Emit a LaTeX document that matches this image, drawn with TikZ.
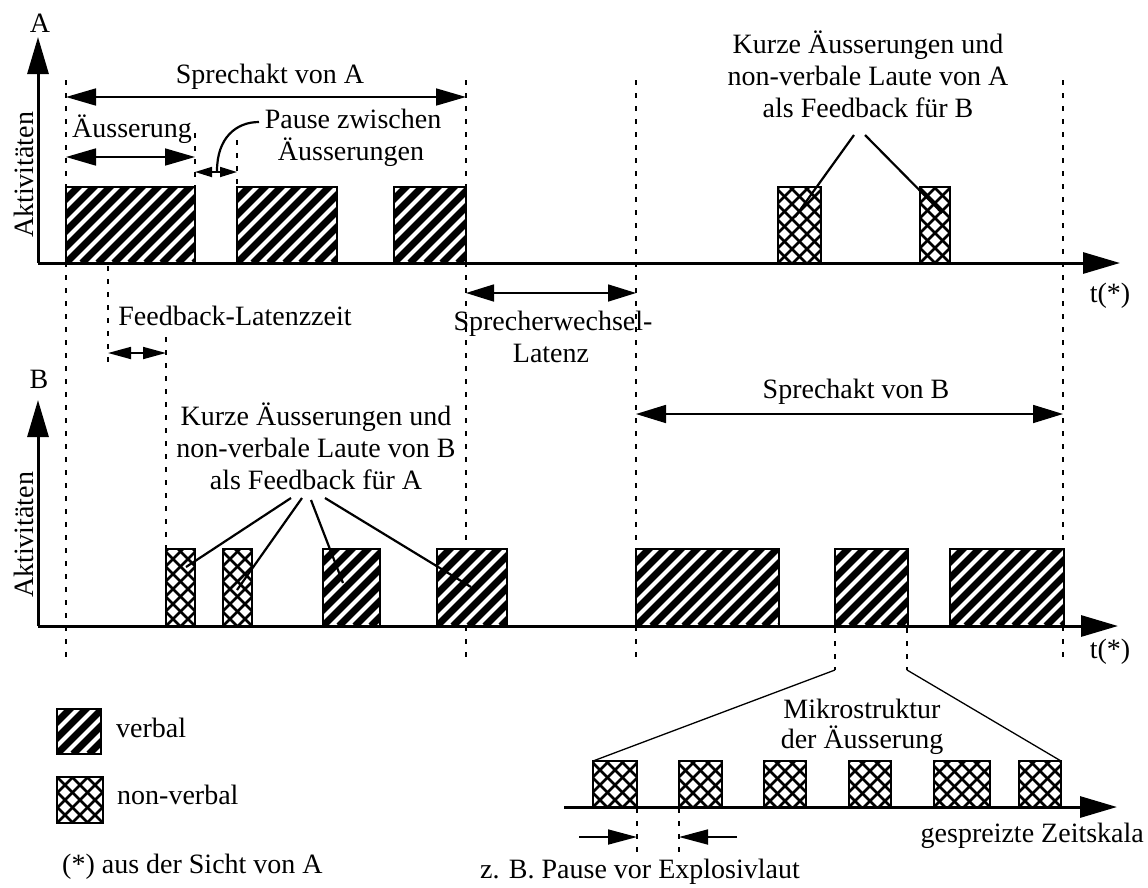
\documentclass[tikz,border=0pt]{standalone}
\usepackage{fontspec}
\setmainfont{Liberation Serif}
\usetikzlibrary{arrows.meta}
\newcommand\mkbox[6]{\node[#1, minimum width={(#5-#3)*1pt}, minimum height={(#6-#4)*1pt}] (#2) at (#3,#4) {};}
\begin{document}
\begin{tikzpicture}[x=1pt,y=-1pt,
  font=\fontsize{28pt}{32pt}\selectfont,
  lbl/.style={inner sep=0pt, anchor=base},
  lblw/.style={inner sep=0pt, anchor=base west},
  axisline/.style={line width=3pt, -{Triangle[length=37pt,width=21pt]}},
  dimarrow/.style 2 args={line width=1.7pt, {Triangle[length=#1,width=#2]}-{Triangle[length=#1,width=#2]}},
  onearrow/.style={line width=1.7pt, -{Triangle[length=29pt,width=15pt]}},
  dotline/.style={line width=2.5pt, dash pattern=on 4.5pt off 8.5pt},
  leader/.style={line width=2.2pt},
  thinleader/.style={line width=1.3pt},
  boxframe/.style={draw, line width=2.8pt, fill=white, inner sep=0pt, outer sep=0pt, anchor=north west},
  verbal/.style={boxframe, path picture={
    \foreach \i in {-7,...,10}
      \draw[line width=6.8pt] ([xshift=\i*16pt]path picture bounding box.south west) -- ++(160pt,160pt);
  }},
  nonverbal/.style={boxframe, path picture={
    \foreach \i in {-7,...,12}{
      \draw[line width=2.6pt] ([xshift=\i*15pt]path picture bounding box.south west) -- ++(160pt,160pt);
      \draw[line width=2.6pt] ([xshift=\i*15pt]path picture bounding box.south east) -- ++(-160pt,160pt);}
  }}
]
\useasboundingbox (0,0) rectangle (1148,887);

% ---------- dotted guide lines ----------
\draw[dotline] (66,80) -- (66,658);
\draw[dotline] (466,80) -- (466,660);
\draw[dotline] (636,80) -- (636,657);
\draw[dotline] (1063,80) -- (1063,657);
\draw[dotline] (108,266) -- (108,370);
\draw[dotline] (166,337) -- (166,549);
\draw[dotline] (195,133) -- (195,187);
\draw[dotline] (237,140) -- (237,187);
\draw[dotline] (835,628) -- (835,670);
\draw[dotline] (907,628) -- (907,670);
\draw[dotline] (637,808) -- (637,853);
\draw[dotline] (679,808) -- (679,853);

% ---------- section A ----------
\coordinate (oA) at (38,263);
\coordinate (yA) at (38,37);
\coordinate (xA) at (1120,263);
\mkbox{verbal}{a1}{66}{187}{195}{263}
\mkbox{verbal}{a2}{237}{187}{337}{263}
\mkbox{verbal}{a3}{394}{187}{466}{263}
\mkbox{nonverbal}{a4}{778}{187}{821}{263}
\mkbox{nonverbal}{a5}{920}{187}{950}{263}
\draw[axisline] (oA) -- (yA);
\draw[axisline] (oA) -- (xA);

\node[lbl] (labA) at (40,32) {A};
\node[lbl, rotate=90] (actA) at (33,175) {Aktivitäten};
\node[lbl] (tA) at (1110,302) {t(*)};

\node[lbl] (sprA) at (270,83) {Sprechakt von A};
\coordinate (sprA1) at (66,97); \coordinate (sprA2) at (466,97);
\draw[dimarrow={30pt}{17pt}] (sprA1) -- (sprA2);

\node[lblw] (aeus) at (72,137) {Äusserung};
\coordinate (aeus1) at (66,157); \coordinate (aeus2) at (195,157);
\draw[dimarrow={30pt}{17pt}] (aeus1) -- (aeus2);

\node[lbl] (pause1) at (353,128) {Pause zwischen};
\node[lbl] (pause2) at (351,160) {Äusserungen};
\coordinate (pz1) at (195,172); \coordinate (pz2) at (237,172);
\draw[dimarrow={17pt}{10pt}] (pz1) -- (pz2);
\coordinate (pzs) at (259,122); \coordinate (pze) at (217,171);
\draw[leader] (pzs) .. controls (236,122) and (217,138) .. (pze);

\node[lbl] (fbA1) at (868,53) {Kurze Äusserungen und};
\node[lbl] (fbA2) at (868,85) {non-verbale Laute von A};
\node[lbl] (fbA3) at (868,117) {als Feedback für B};
\coordinate (fbAl) at (854,135); \coordinate (fbAr) at (865,135);
\coordinate (fbAt1) at (795,217); \coordinate (fbAt2) at (942,213);
\draw[leader] (fbAl) -- (fbAt1);
\draw[leader] (fbAr) -- (fbAt2);

% ---------- between ----------
\node[lbl] (fblat) at (235,325) {Feedback-Latenzzeit};
\coordinate (fl1) at (108,353); \coordinate (fl2) at (166,353);
\draw[dimarrow={23pt}{12pt}] (fl1) -- (fl2);

\node[lbl] (swl1) at (553,330) {Sprecherwechsel-};
\node[lbl] (swl2) at (551,362) {Latenz};
\coordinate (sw1) at (466,293); \coordinate (sw2) at (636,293);
\draw[dimarrow={28pt}{17pt}] (sw1) -- (sw2);

% ---------- section B ----------
\coordinate (oB) at (38,626);
\coordinate (yB) at (38,400);
\coordinate (xB) at (1118,626);
\mkbox{nonverbal}{b1}{166}{549}{195}{626}
\mkbox{nonverbal}{b2}{223}{549}{252}{626}
\mkbox{verbal}{b3}{323}{549}{380}{626}
\mkbox{verbal}{b4}{437}{549}{507}{626}
\mkbox{verbal}{b5}{636}{549}{779}{626}
\mkbox{verbal}{b6}{835}{549}{908}{626}
\mkbox{verbal}{b7}{950}{549}{1064}{626}
\draw[axisline] (oB) -- (yB);
\draw[axisline] (oB) -- (xB);

\node[lbl] (labB) at (39,388) {B};
\node[lbl, rotate=90] (actB) at (33,535) {Aktivitäten};
\node[lbl] (tB) at (1110,658) {t(*)};

\node[lbl] (fbB1) at (316,425) {Kurze Äusserungen und};
\node[lbl] (fbB2) at (316,457) {non-verbale Laute von B};
\node[lbl] (fbB3) at (316,489) {als Feedback für A};
\coordinate (fbBs1) at (291,498); \coordinate (fbBt1) at (186,567);
\coordinate (fbBs2) at (302,498); \coordinate (fbBt2) at (237,590);
\coordinate (fbBs3) at (311,500); \coordinate (fbBt3) at (343,583);
\coordinate (fbBs4) at (325,498); \coordinate (fbBt4) at (471,587);
\draw[leader] (fbBs1) -- (fbBt1);
\draw[leader] (fbBs2) -- (fbBt2);
\draw[leader] (fbBs3) -- (fbBt3);
\draw[leader] (fbBs4) -- (fbBt4);

\node[lbl] (sprB) at (856,398) {Sprechakt von B};
\coordinate (sprB1) at (636,414); \coordinate (sprB2) at (1063,414);
\draw[dimarrow={30pt}{18pt}] (sprB1) -- (sprB2);

% ---------- micro structure ----------
\coordinate (oM) at (564,807);
\coordinate (xM) at (1117,807);
\draw[axisline] (oM) -- (xM);
\mkbox{nonverbal}{m1}{593}{761}{637}{807}
\mkbox{nonverbal}{m2}{679}{761}{722}{807}
\mkbox{nonverbal}{m3}{764}{761}{806}{807}
\mkbox{nonverbal}{m4}{849}{761}{891}{807}
\mkbox{nonverbal}{m5}{934}{761}{990}{807}
\mkbox{nonverbal}{m6}{1019}{761}{1061}{807}
\coordinate (zl) at (835,670); \coordinate (zr) at (907,670);
\draw[thinleader] (zl) -- (m1.north west);
\draw[thinleader] (zr) -- (m6.north east);
\node[lbl] (mik1) at (862,718) {Mikrostruktur};
\node[lbl] (mik2) at (862,748) {der Äusserung};
\node[inner sep=0pt, anchor=base east] (zeit) at (1144,842) {gespreizte Zeitskala};
\coordinate (pa1) at (579,837); \coordinate (pa2) at (637,837);
\coordinate (pb1) at (737,837); \coordinate (pb2) at (679,837);
\draw[onearrow] (pa1) -- (pa2);
\draw[onearrow] (pb1) -- (pb2);
\node[lblw] (expl) at (480,878) {z. B. Pause vor Explosivlaut};

% ---------- legend ----------
\mkbox{verbal}{lv}{57}{709}{101}{754}
\mkbox{nonverbal}{lnv}{57}{777}{103}{823}
\node[lblw] (lvt) at (116,737) {verbal};
\node[lblw] (lnvt) at (117,804) {non-verbal};
\node[lblw] (star) at (62,873) {(*) aus der Sicht von A};
\end{tikzpicture}
\end{document}
